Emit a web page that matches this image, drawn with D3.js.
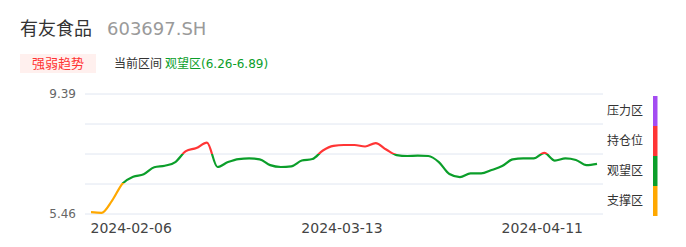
<!DOCTYPE html>
<html>
<head>
<meta charset="utf-8">
<script src="https://cdn.jsdelivr.net/npm/d3@7"></script>
<style>
  body { margin: 0; background: #fff; font-family: "DejaVu Sans", "Noto Sans CJK SC", sans-serif; }
  svg text { font-family: "DejaVu Sans", "Noto Sans CJK SC", sans-serif; }
</style>
</head>
<body>
<div id="chart"></div>
<script>
// chart data
var dates = ["2024-01-31","2024-02-01","2024-02-02","2024-02-05","2024-02-06","2024-02-07","2024-02-08",
  "2024-02-19","2024-02-20","2024-02-21","2024-02-22","2024-02-23","2024-02-26","2024-02-27","2024-02-28",
  "2024-02-29","2024-03-01","2024-03-04","2024-03-05","2024-03-06","2024-03-07","2024-03-08","2024-03-11",
  "2024-03-12","2024-03-13","2024-03-14","2024-03-15","2024-03-18","2024-03-19","2024-03-20","2024-03-21",
  "2024-03-22","2024-03-25","2024-03-26","2024-03-27","2024-03-28","2024-03-29","2024-04-01","2024-04-02",
  "2024-04-03","2024-04-08","2024-04-09","2024-04-10","2024-04-11","2024-04-12","2024-04-15","2024-04-16",
  "2024-04-17","2024-04-18"];
var prices = [5.52, 5.50, 5.90, 6.46, 6.68, 6.76, 6.99, 7.04, 7.16, 7.52, 7.62, 7.80, 7.00, 7.16, 7.26,
  7.28, 7.25, 7.06, 7.00, 7.02, 7.21, 7.26, 7.54, 7.69, 7.72, 7.72, 7.67, 7.78, 7.57, 7.39, 7.36,
  7.37, 7.36, 7.16, 6.77, 6.67, 6.79, 6.79, 6.90, 7.03, 7.25, 7.28, 7.28, 7.46, 7.21, 7.28, 7.23,
  7.06, 7.10];
var tickDates = ["2024-02-06", "2024-03-13", "2024-04-11"];
var yTicks = [5.46, 9.39];

// zones, bottom to top
var zoneNames = ["支撑区", "观望区", "持仓位", "压力区"];
var zoneColors = ["#ffa800", "#0b9e2a", "#ff3535", "#a44cf2"];
var zoneBreaks = [6.47, 7.42, 8.6];

var stockName = "有友食品";
var stockCode = "603697.SH";
var rangeText = "观望区(6.26-6.89)";

var svgWidth = 686;
var svgHeight = 247;
var margin = {top: 94, right: 83, bottom: 33, left: 85};
var width = svgWidth - margin.left - margin.right;
var height = svgHeight - margin.top - margin.bottom;

var svg = d3.select("#chart")
  .append("svg")
  .attr("width", svgWidth)
  .attr("height", svgHeight);

// header
svg.append("text")
  .attr("x", 20).attr("y", 35)
  .attr("font-size", 18).attr("fill", "#333")
  .text(stockName);
svg.append("text")
  .attr("x", 107).attr("y", 35)
  .attr("font-size", 18).attr("fill", "#9a9a9a")
  .text(stockCode);

svg.append("rect")
  .attr("x", 20).attr("y", 54)
  .attr("width", 76).attr("height", 19)
  .attr("fill", "#fff0ee");
svg.append("text")
  .attr("x", 58).attr("y", 68)
  .attr("text-anchor", "middle")
  .attr("font-size", 13).attr("fill", "#f33")
  .text("强弱趋势");
svg.append("text")
  .attr("x", 114).attr("y", 68)
  .attr("font-size", 12).attr("fill", "#333")
  .text("当前区间");
svg.append("text")
  .attr("x", 165).attr("y", 68)
  .attr("font-size", 12).attr("fill", "#0b9e2a")
  .text(rangeText);

var chartGroup = svg.append("g")
  .attr("transform", `translate(${margin.left}, ${margin.top})`);

var xScale = d3.scaleLinear()
  .domain([0, dates.length - 1])
  .range([6, width - 6]);

var yScale = d3.scaleLinear()
  .domain([yTicks[0], yTicks[1]])
  .range([height, 0]);

// grid lines (5 evenly spaced)
var gridVals = d3.range(5).map(i => yTicks[0] + (yTicks[1] - yTicks[0]) * i / 4);
chartGroup.selectAll(".grid")
  .data(gridVals)
  .join("line")
  .attr("x1", 0).attr("x2", width)
  .attr("y1", d => yScale(d)).attr("y2", d => yScale(d))
  .attr("stroke", "#e0e6f1").attr("stroke-width", 1);

// y labels
chartGroup.selectAll(".ylab")
  .data(yTicks)
  .join("text")
  .attr("x", -9)
  .attr("y", d => yScale(d))
  .attr("dy", "0.35em")
  .attr("text-anchor", "end")
  .attr("font-size", 12).attr("fill", "#666")
  .text(d => d.toFixed(2));

// x labels
chartGroup.selectAll(".xlab")
  .data(tickDates)
  .join("text")
  .attr("x", d => xScale(dates.indexOf(d)) - 2)
  .attr("y", height + 19)
  .attr("text-anchor", "middle")
  .attr("font-size", 14).attr("fill", "#444")
  .text(d => d);

// gradient colouring the line by value
var grad = svg.append("defs").append("linearGradient")
  .attr("id", "zoneGrad")
  .attr("gradientUnits", "userSpaceOnUse")
  .attr("x1", 0).attr("x2", 0)
  .attr("y1", yScale(yTicks[0])).attr("y2", yScale(yTicks[1]));
var span = yTicks[1] - yTicks[0];
zoneColors.forEach(function(c, i) {
  var lo = i === 0 ? 0 : (zoneBreaks[i - 1] - yTicks[0]) / span;
  var hi = i === zoneColors.length - 1 ? 1 : (zoneBreaks[i] - yTicks[0]) / span;
  grad.append("stop").attr("offset", lo).attr("stop-color", c);
  grad.append("stop").attr("offset", hi).attr("stop-color", c);
});

var line = d3.line()
  .x((d, i) => xScale(i))
  .y(d => yScale(d))
  .curve(d3.curveMonotoneX);

chartGroup.append("path")
  .datum(prices)
  .attr("d", line)
  .attr("fill", "none")
  .attr("stroke", "url(#zoneGrad)")
  .attr("stroke-width", 2.2)
  .attr("stroke-linejoin", "round");

// legend bar on the right
var segH = 30;
var legendTop = 96;
var legend = svg.append("g");
zoneNames.forEach(function(name, i) {
  var k = zoneNames.length - 1 - i;
  legend.append("rect")
    .attr("x", 653).attr("y", legendTop + k * segH)
    .attr("width", 4.5).attr("height", segH)
    .attr("fill", zoneColors[i]);
  legend.append("text")
    .attr("x", 607).attr("y", legendTop + k * segH + segH / 2)
    .attr("dy", "0.35em")
    .attr("font-size", 12).attr("fill", "#333")
    .text(name);
});
</script>
</body>
</html>
